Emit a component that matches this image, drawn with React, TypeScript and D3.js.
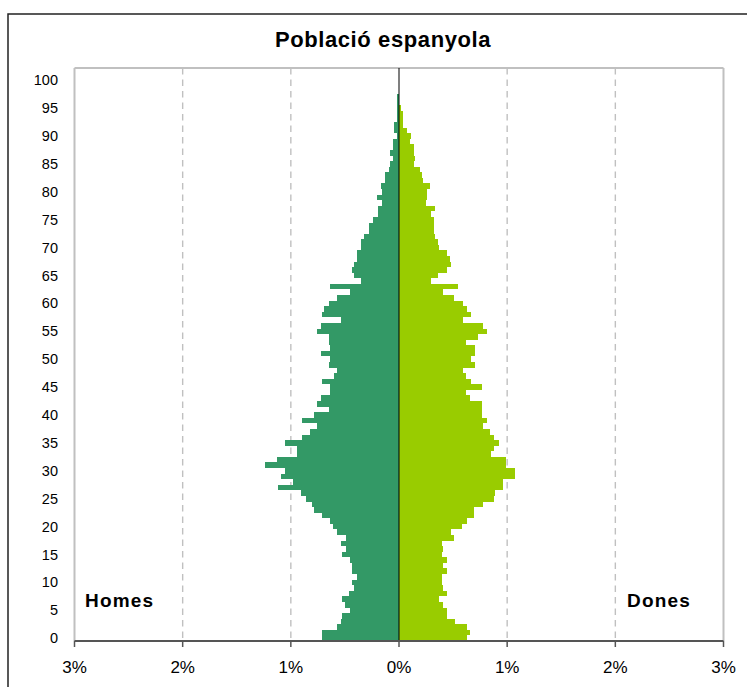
import React from 'react'
import * as d3 from 'd3'

// % of population by single year of age (index = age 0..100)
const homes = [
  0.71, 0.71, 0.57, 0.54, 0.53, 0.45, 0.50, 0.53, 0.46, 0.42,
  0.43, 0.39, 0.43, 0.43, 0.45, 0.53, 0.49, 0.54, 0.49, 0.57,
  0.61, 0.64, 0.71, 0.79, 0.80, 0.86, 0.91, 1.12, 0.98, 1.09,
  1.05, 1.24, 1.13, 0.94, 0.94, 1.05, 0.90, 0.82, 0.76, 0.90,
  0.79, 0.65, 0.76, 0.72, 0.64, 0.64, 0.71, 0.60, 0.57, 0.65,
  0.64, 0.72, 0.64, 0.65, 0.65, 0.76, 0.72, 0.54, 0.71, 0.69,
  0.65, 0.57, 0.45, 0.64, 0.35, 0.42, 0.43, 0.42, 0.39, 0.39,
  0.35, 0.35, 0.32, 0.28, 0.28, 0.24, 0.19, 0.19, 0.16, 0.20,
  0.16, 0.17, 0.13, 0.13, 0.09, 0.08, 0.06, 0.08, 0.06, 0.06,
  0.02, 0.05, 0.05, 0.02, 0.02, 0.02, 0.02, 0.02, 0, 0, 0,
]

const dones = [
  0.63, 0.66, 0.63, 0.52, 0.44, 0.44, 0.41, 0.37, 0.44, 0.41,
  0.40, 0.40, 0.44, 0.41, 0.44, 0.40, 0.41, 0.40, 0.51, 0.48,
  0.58, 0.63, 0.69, 0.69, 0.78, 0.88, 0.89, 0.96, 0.96, 1.07,
  1.07, 0.99, 0.99, 0.85, 0.88, 0.92, 0.88, 0.84, 0.78, 0.81,
  0.77, 0.77, 0.77, 0.66, 0.62, 0.77, 0.67, 0.62, 0.59, 0.70,
  0.67, 0.70, 0.70, 0.62, 0.73, 0.81, 0.78, 0.59, 0.67, 0.63,
  0.59, 0.51, 0.41, 0.55, 0.30, 0.36, 0.44, 0.48, 0.47, 0.44,
  0.37, 0.36, 0.33, 0.32, 0.32, 0.32, 0.30, 0.33, 0.25, 0.26,
  0.26, 0.29, 0.22, 0.21, 0.19, 0.14, 0.15, 0.14, 0.14, 0.10,
  0.11, 0.07, 0.04, 0.04, 0.04, 0.02, 0, 0, 0, 0, 0,
]

const ageTicks = d3.range(0, 101, 5)
const pctTicks = [-3, -2, -1, 0, 1, 2, 3]

const title = 'Població espanyola'
const labelHomes = 'Homes'
const labelDones = 'Dones'

const W = 747
const H = 687
const left = 74.5
const right = 723.5
const top = 68
const bottom = 641

const font = '"Liberation Sans", Arial, sans-serif'

export default function App() {
  const x = d3.scaleLinear().domain([-3, 3]).range([left, right])
  const step = 5.58
  const y = d3.scaleLinear().domain([0, (bottom - top) / step]).range([bottom, top])

  const ages = d3.range(homes.length)

  return (
    <svg width={W} height={H} style={{ position: 'fixed', left: 0, top: 0, background: '#fff' }}>
      <rect x={0} y={0} width={W} height={H} fill="#fff" />
      {/* chart frame */}
      <rect x={8} y={14} width={W + 20} height={H} fill="none" stroke="#222" strokeWidth={1.5} />

      <text x={383} y={47} textAnchor="middle" fontFamily={font} fontWeight="bold" fontSize={22} letterSpacing={0.6}>
        {title}
      </text>

      {/* gridlines */}
      {pctTicks.filter(t => Math.abs(t) === 1 || Math.abs(t) === 2).map(t => (
        <line key={'g' + t} x1={x(t)} x2={x(t)} y1={top} y2={bottom} stroke="#c0c0c0" strokeWidth={1.4} strokeDasharray="6.5,5" />
      ))}
      <line x1={left} x2={right} y1={top} y2={top} stroke="#c0c0c0" strokeWidth={2} />
      <line x1={left} x2={left} y1={top} y2={bottom} stroke="#c0c0c0" strokeWidth={2} />
      <line x1={right} x2={right} y1={top} y2={bottom} stroke="#c0c0c0" strokeWidth={2} />

      {/* bars */}
      {ages.map(a => (
        <rect key={'h' + a} x={x(-homes[a])} y={y(a + 1)} width={x(0) - x(-homes[a])} height={y(a) - y(a + 1)} fill="#339966" shapeRendering="crispEdges" />
      ))}
      {ages.map(a => (
        <rect key={'d' + a} x={x(0)} y={y(a + 1)} width={x(dones[a]) - x(0)} height={y(a) - y(a + 1)} fill="#99cc00" shapeRendering="crispEdges" />
      ))}

      {/* centre line */}
      <line x1={x(0)} x2={x(0)} y1={top} y2={bottom} stroke="#000" strokeOpacity={0.5} strokeWidth={2} />

      {/* x axis */}
      <line x1={left} x2={right} y1={bottom} y2={bottom} stroke="#555" strokeWidth={2} />
      {pctTicks.map(t => (
        <g key={'t' + t}>
          <line x1={x(t)} x2={x(t)} y1={bottom} y2={bottom + 6} stroke="#555" strokeWidth={1.5} />
          <text x={x(t)} y={673} textAnchor="middle" fontFamily={font} fontSize={17}>
            {Math.abs(t) + '%'}
          </text>
        </g>
      ))}

      {/* y labels */}
      {ageTicks.map(a => (
        <text key={'a' + a} x={58} y={y(a + 0.5) + 5} textAnchor="end" fontFamily={font} fontSize={14.5}>
          {a}
        </text>
      ))}

      <text x={85} y={607} fontFamily={font} fontWeight="bold" fontSize={19} letterSpacing={1.2}>{labelHomes}</text>
      <text x={627} y={607} fontFamily={font} fontWeight="bold" fontSize={19} letterSpacing={1.2}>{labelDones}</text>
    </svg>
  )
}
